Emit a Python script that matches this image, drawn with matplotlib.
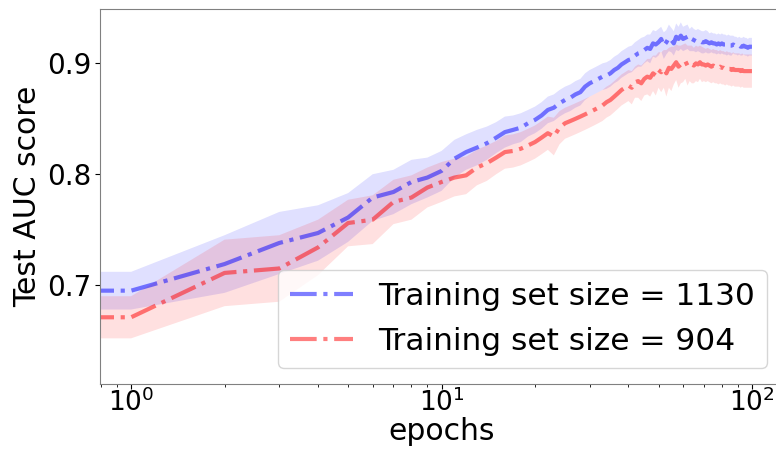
import numpy as np
import matplotlib
matplotlib.use("Agg")
import matplotlib.pyplot as plt

# epoch 0 is the untrained model; it sits off the log axis and clips to the left edge
epochs = list(range(0, 101))

# mean test AUC per epoch, training set size 1130
auc_1130 = [0.695,
            0.695, 0.719, 0.738, 0.747, 0.761, 0.779, 0.784, 0.793, 0.797, 0.803,
            0.814, 0.820, 0.824, 0.828, 0.833, 0.838, 0.840, 0.842, 0.846, 0.849,
            0.853, 0.858, 0.860, 0.864, 0.867, 0.869, 0.872, 0.874, 0.879, 0.882,
            0.884, 0.886, 0.888, 0.889, 0.891, 0.894, 0.896, 0.899, 0.901, 0.903,
            0.904, 0.907, 0.909, 0.910, 0.912, 0.914, 0.913, 0.918, 0.917, 0.919,
            0.922, 0.916, 0.919, 0.923, 0.921, 0.918, 0.924, 0.922, 0.925, 0.922,
            0.923, 0.924, 0.921, 0.922, 0.921, 0.920, 0.921, 0.920, 0.919, 0.919,
            0.920, 0.919, 0.918, 0.919, 0.918, 0.918, 0.917, 0.918, 0.917, 0.918,
            0.917, 0.917, 0.916, 0.917, 0.916, 0.916, 0.917, 0.916, 0.916, 0.915,
            0.916, 0.915, 0.915, 0.916, 0.915, 0.915, 0.914, 0.915, 0.915, 0.915]
std_1130 = [0.017,
            0.017, 0.026, 0.028, 0.025, 0.022, 0.021, 0.020, 0.020, 0.018, 0.018,
            0.017, 0.016, 0.016, 0.015, 0.014, 0.014, 0.013, 0.013, 0.012, 0.012,
            0.012, 0.012, 0.012, 0.012, 0.012, 0.012, 0.012, 0.012, 0.012, 0.012,
            0.012, 0.012, 0.012, 0.012, 0.012, 0.012, 0.012, 0.012, 0.012, 0.012,
            0.012, 0.012, 0.012, 0.013, 0.012, 0.012, 0.013, 0.012, 0.012, 0.012,
            0.011, 0.012, 0.011, 0.012, 0.011, 0.011, 0.012, 0.011, 0.012, 0.011,
            0.011, 0.011, 0.010, 0.011, 0.010, 0.010, 0.010, 0.010, 0.010, 0.010,
            0.010, 0.010, 0.009, 0.009, 0.009, 0.009, 0.009, 0.009, 0.009, 0.009,
            0.009, 0.009, 0.009, 0.009, 0.009, 0.009, 0.008, 0.008, 0.008, 0.008,
            0.008, 0.008, 0.008, 0.008, 0.008, 0.008, 0.008, 0.008, 0.008, 0.008]

# mean test AUC per epoch, training set size 904
auc_904 = [0.671,
           0.671, 0.711, 0.715, 0.734, 0.756, 0.759, 0.775, 0.779, 0.788, 0.793,
           0.797, 0.799, 0.806, 0.810, 0.815, 0.820, 0.821, 0.823, 0.826, 0.829,
           0.833, 0.837, 0.834, 0.842, 0.846, 0.848, 0.850, 0.852, 0.854, 0.856,
           0.858, 0.860, 0.862, 0.865, 0.867, 0.870, 0.873, 0.876, 0.878, 0.880,
           0.878, 0.883, 0.884, 0.882, 0.886, 0.888, 0.887, 0.891, 0.889, 0.894,
           0.892, 0.895, 0.891, 0.896, 0.895, 0.898, 0.901, 0.897, 0.899, 0.900,
           0.902, 0.898, 0.900, 0.899, 0.898, 0.900, 0.899, 0.901, 0.899, 0.899,
           0.898, 0.899, 0.898, 0.897, 0.898, 0.897, 0.897, 0.896, 0.897, 0.896,
           0.896, 0.895, 0.896, 0.895, 0.895, 0.894, 0.895, 0.894, 0.894, 0.894,
           0.894, 0.893, 0.894, 0.893, 0.893, 0.893, 0.893, 0.893, 0.893, 0.893]
std_904 = [0.019,
           0.019, 0.030, 0.030, 0.025, 0.021, 0.022, 0.020, 0.020, 0.018, 0.018,
           0.017, 0.017, 0.016, 0.016, 0.015, 0.015, 0.015, 0.015, 0.015, 0.015,
           0.015, 0.015, 0.017, 0.015, 0.014, 0.014, 0.014, 0.014, 0.014, 0.014,
           0.014, 0.014, 0.014, 0.014, 0.014, 0.014, 0.014, 0.014, 0.014, 0.014,
           0.015, 0.014, 0.015, 0.016, 0.015, 0.016, 0.017, 0.016, 0.018, 0.016,
           0.018, 0.017, 0.021, 0.018, 0.020, 0.017, 0.016, 0.019, 0.017, 0.017,
           0.016, 0.018, 0.016, 0.017, 0.016, 0.016, 0.016, 0.015, 0.016, 0.015,
           0.015, 0.015, 0.015, 0.015, 0.015, 0.015, 0.015, 0.015, 0.015, 0.015,
           0.015, 0.015, 0.015, 0.015, 0.015, 0.015, 0.015, 0.015, 0.015, 0.015,
           0.015, 0.015, 0.015, 0.015, 0.015, 0.015, 0.015, 0.015, 0.015, 0.015]

labels = ["Training set size = 1130", "Training set size = 904"]

fig = plt.figure(figsize=(7.76, 4.51), dpi=100)
ax = fig.add_axes([0.129, 0.149, 0.880, 0.831])

x = np.array(epochs, dtype=float)
for mean, std, col, lab in [(auc_1130, std_1130, "b", labels[0]),
                            (auc_904, std_904, "r", labels[1])]:
    mean = np.array(mean)
    std = np.array(std)
    ax.plot(x, mean, ls="-.", lw=3, color=col, alpha=0.5, label=lab)
    ax.fill_between(x, mean - std, mean + std, color=col, alpha=0.12, lw=0)

ax.set_xscale("log", nonpositive="clip")
ax.set_xlim(10 ** -0.1, 10 ** 2.1)
ax.set_ylim(0.611, 0.949)
ax.set_yticks([0.7, 0.8, 0.9])
ax.tick_params(axis="y", labelsize=20, pad=2.5)
ax.tick_params(axis="x", labelsize=19, pad=0)
ax.set_xlabel("epochs", fontsize=21.5, labelpad=0)
ax.set_ylabel("Test AUC score", fontsize=21.5, labelpad=4)
for s in ax.spines.values():
    s.set_color("0.5")

ax.legend(loc="lower right", fontsize=22.5)

fig.savefig("out.png", dpi=100)
